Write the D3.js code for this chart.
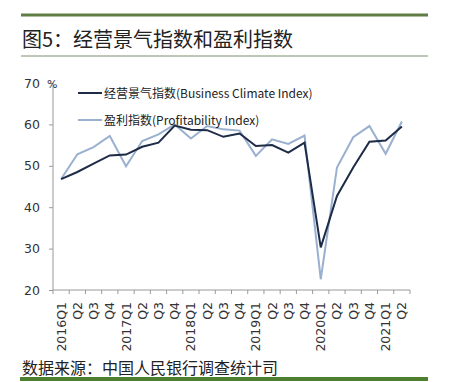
<!DOCTYPE html>
<html><head><meta charset="utf-8">
<script src="https://cdn.jsdelivr.net/npm/d3@7"></script>
<style>body{margin:0;background:#fff}svg{display:block}</style>
</head><body>
<script>
const quarters = ["2016Q1","Q2","Q3","Q4","2017Q1","Q2","Q3","Q4","2018Q1","Q2","Q3","Q4","2019Q1","Q2","Q3","Q4","2020Q1","Q2","Q3","Q4","2021Q1","Q2"];
const businessClimate = [46.8,48.5,50.5,52.5,52.7,54.6,55.6,59.7,58.7,58.6,57.0,57.8,54.8,55.0,53.2,55.6,30.3,42.7,49.6,55.8,56.1,59.5];
const profitability = [46.8,52.8,54.5,57.2,49.9,56.0,57.6,60.0,56.6,59.6,58.8,58.5,52.4,56.4,55.3,57.3,22.6,49.6,56.9,59.6,52.9,60.7];
const yTicks = [20,30,40,50,60,70];
const title = "图5：经营景气指数和盈利指数";
const source = "数据来源：中国人民银行调查统计司";
const seriesNames = ["经营景气指数(Business Climate Index)","盈利指数(Profitability Index)"];

const W=452,H=382;
const svg=d3.select("body").append("svg").attr("width",W).attr("height",H);
const cjk="'Noto Sans CJK SC','Noto Sans',sans-serif";

svg.append("rect").attr("x",21).attr("y",13.5).attr("width",407).attr("height",3).attr("fill","#5f7d45");
svg.append("text").attr("x",22).attr("y",47).attr("font-family",cjk).attr("font-size",20).attr("fill","#222").text(title);
svg.append("rect").attr("x",21).attr("y",55.5).attr("width",407).attr("height",1).attr("fill","#7d8f6c");

const x=d3.scaleBand().domain(d3.range(quarters.length)).range([53,410]);
const y=d3.scaleLinear().domain([20,70]).range([290,83]);

const g=svg.append("g");
const ya=g.append("g").attr("transform","translate(53,0)").call(d3.axisLeft(y).tickValues(yTicks).tickSize(4).tickPadding(9));
ya.selectAll("path,line").attr("stroke","#999");
ya.select("path").attr("d","M0,83V290");
ya.selectAll("text").attr("font-family","'DejaVu Sans',Verdana,sans-serif").attr("font-size",12.5).attr("fill","#333");
const xa=g.append("g").attr("transform","translate(0,290)");
xa.append("line").attr("x1",53).attr("x2",410).attr("stroke","#999");
xa.selectAll("line.t").data(d3.range(quarters.length+1)).join("line").attr("class","t")
  .attr("x1",i=>53+i*x.step()).attr("x2",i=>53+i*x.step()).attr("y1",0).attr("y2",4).attr("stroke","#999");
xa.selectAll("text").data(quarters).join("text")
  .attr("transform",(d,i)=>`translate(${x(i)+x.bandwidth()/2+4.5},12) rotate(-90)`)
  .attr("text-anchor","end").attr("font-family","'DejaVu Sans',Verdana,sans-serif").attr("font-size",12.5).attr("fill","#333").text(d=>d);

svg.append("text").attr("x",47).attr("y",88).attr("font-family","'DejaVu Sans',sans-serif").attr("font-size",11).attr("fill","#333").text("%");

const line=d3.line().x((d,i)=>x(i)+x.bandwidth()/2).y(d=>y(d));
svg.append("path").datum(profitability).attr("d",line).attr("fill","none").attr("stroke","#9ab0cf").attr("stroke-width",2);
svg.append("path").datum(businessClimate).attr("d",line).attr("fill","none").attr("stroke","#1d2b47").attr("stroke-width",2);

const leg=[{c:"#1d2b47",y:93},{c:"#9ab0cf",y:120}];
leg.forEach((l,k)=>{
  svg.append("line").attr("x1",78).attr("x2",102).attr("y1",l.y).attr("y2",l.y).attr("stroke",l.c).attr("stroke-width",2);
  svg.append("text").attr("x",104).attr("y",l.y+4.5).attr("font-family",cjk).attr("font-size",12).attr("fill","#222").text(seriesNames[k]);
});

svg.append("text").attr("x",22).attr("y",374).attr("font-family",cjk).attr("font-size",16).attr("fill","#222").text(source);
svg.append("rect").attr("x",20).attr("y",377).attr("width",408).attr("height",4).attr("fill","#4e7f2e");
</script>
</body></html>
